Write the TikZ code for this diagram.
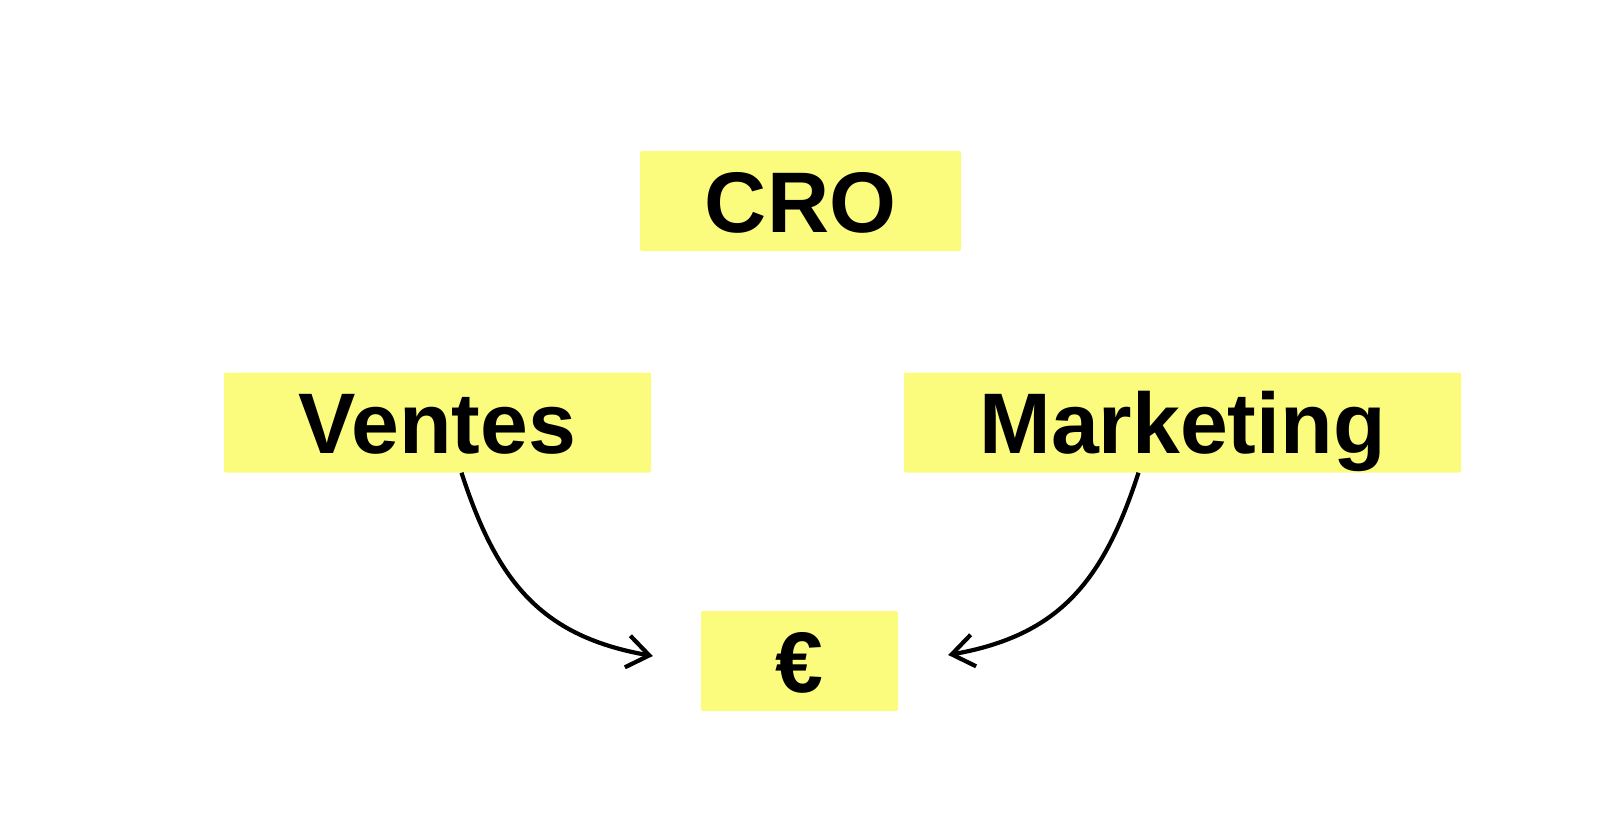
\documentclass[tikz,border=0pt]{standalone}
\usepackage{fontspec}
\setmainfont{Liberation Sans}
\usetikzlibrary{arrows.meta,positioning}
\definecolor{myyellow}{RGB}{251,251,125}

\begin{document}
\begin{tikzpicture}[x=1pt,y=1pt,
  tag/.style={fill=myyellow,rounded corners=2pt,inner sep=0pt,minimum height=100pt,
    text height=62pt,text depth=0pt,font=\fontsize{86}{100}\selectfont\bfseries},
  flow/.style={line width=4.2pt,-{Straight Barb[length=22pt,width=32pt,line width=4.2pt]}}]
\useasboundingbox (0,0) rectangle (1600,-838);
\node[tag,minimum width=321pt] (cro) at (800.5,-201) {CRO};
\node[tag,minimum width=427pt] (ventes) at (437.5,-422.5) {Ventes};
\node[tag,minimum width=557pt] (marketing) at (1182.5,-422.5) {Marketing};
\node[tag,minimum width=197pt] (euro) at (799.5,-661) {€};
\coordinate (inL) at ([xshift=-48pt,yshift=5pt]euro.west);
\coordinate (inR) at ([xshift=50pt,yshift=6pt]euro.east);
\draw[flow] ([xshift=24pt]ventes.south) to[out=-72,in=170,looseness=1.1] (inL);
\draw[flow] ([xshift=-44pt]marketing.south) to[out=-108,in=10,looseness=1.1] (inR);
\end{tikzpicture}
\end{document}
